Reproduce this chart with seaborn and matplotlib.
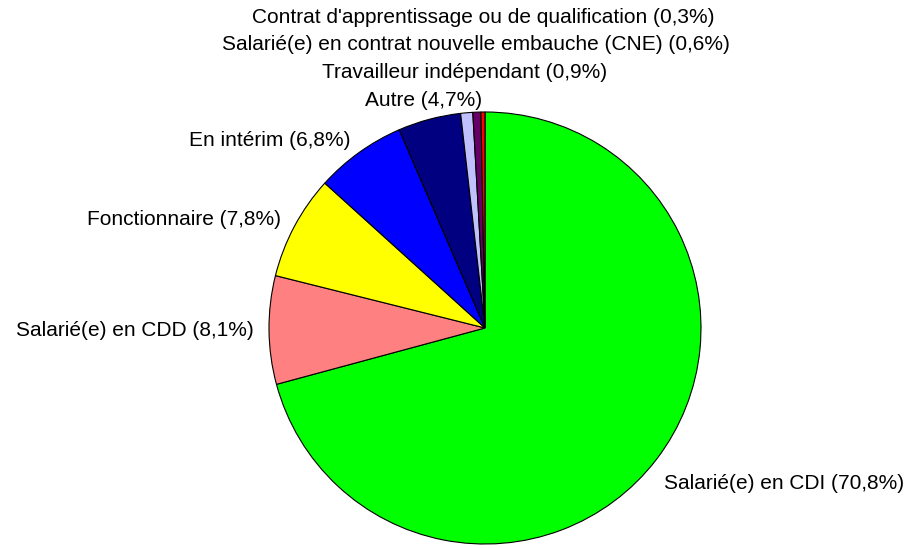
import matplotlib
matplotlib.use("Agg")
import matplotlib.pyplot as plt
import seaborn as sns
import numpy as np

# Données : répartition par type de contrat (%)
categories = [
    "Salarié(e) en CDI",
    "Salarié(e) en CDD",
    "Fonctionnaire",
    "En intérim",
    "Autre",
    "Travailleur indépendant",
    "Salarié(e) en contrat nouvelle embauche (CNE)",
    "Contrat d'apprentissage ou de qualification",
]
valeurs = [70.8, 8.1, 7.8, 6.8, 4.7, 0.9, 0.6, 0.3]
couleurs = ["#00FF00", "#FF8080", "#FFFF00", "#0000FF",
            "#000080", "#C0C0FF", "#660066", "#FF0000"]

labels = [f"{c} ({str(v).replace('.', ',')}%)" for c, v in zip(categories, valeurs)]

sns.set_theme(style="white")
plt.rcParams['font.family'] = ['Liberation Sans', 'DejaVu Sans']

fig = plt.figure(figsize=(9.1, 5.48), dpi=100)
ax = fig.add_axes([269 / 910, 4 / 548, 432 / 910, 432 / 548])

wedges, textes = ax.pie(
    valeurs, labels=labels, colors=couleurs, startangle=90, counterclock=False,
    labeldistance=1.07, radius=1.0,
    wedgeprops=dict(edgecolor="black", linewidth=0.8),
    textprops=dict(fontsize=15, color="black"),
)
ax.set_xlim(-1, 1)
ax.set_ylim(-1, 1)
ax.set_aspect("equal")

# étiquette CDI un peu plus bas
x, y = textes[0].get_position()
textes[0].set_position((x - 0.02, y - 0.07))

# petites parts : étiquettes centrées et empilées au-dessus du camembert
for k, i in enumerate(range(4, len(valeurs))):
    x, _ = textes[i].get_position()
    textes[i].set_position((x * 1.03, 1.055 + k * 0.128))
    textes[i].set_ha("center")
for t in textes:
    t.set_clip_on(False)

fig.savefig("out.png", dpi=100, facecolor="white")
